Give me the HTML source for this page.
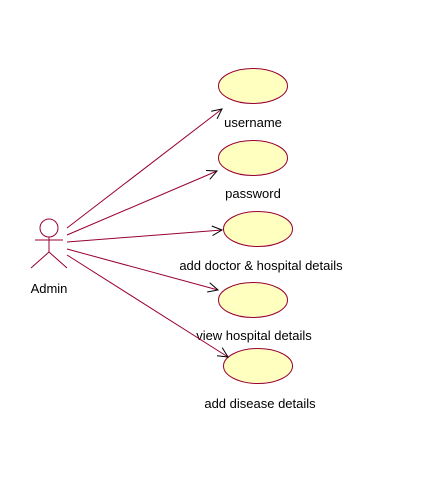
<!DOCTYPE html>
<html><head><meta charset="utf-8"><style>
html,body{margin:0;padding:0;background:#fff;}
svg text{font-family:"Liberation Sans",Arial,sans-serif;font-size:13px;fill:#000;}
</style></head><body>
<svg id="d" width="436" height="498" viewBox="0 0 436 498" xmlns="http://www.w3.org/2000/svg">
<g stroke="#990033" stroke-width="1" fill="none">
<circle cx="49" cy="228" r="9" fill="#fff"/>
<line x1="49" y1="237" x2="49" y2="252"/>
<line x1="35" y1="240" x2="63" y2="240"/>
<line x1="49" y1="252" x2="31" y2="268"/>
<line x1="49" y1="252" x2="67" y2="268"/>
</g>
<text x="49" y="293" text-anchor="middle">Admin</text>
</svg>
<script>
const useCases=["username","password","add doctor & hospital details","view hospital details","add disease details"];
const ns="http://www.w3.org/2000/svg";
const svg=document.getElementById('d');
const geo=[[253,86,67,228,222,109,123,253],[253,158,67,235,217,171,194,253],[258,229,67,242,222,230,266,261],[253,300,67,249,218,290,336,254],[258,366,67,255,228,357,404,260]];
function mk(t,a){const e=document.createElementNS(ns,t);for(const k in a)e.setAttribute(k,a[k]);svg.appendChild(e);return e;}
useCases.forEach((n,i)=>{const g=geo[i];
const el=mk('ellipse',{cx:g[0],cy:g[1],rx:34.5,ry:17.5,fill:'#ffffc0',stroke:'#990033'});


const ln=mk('line',{x1:g[2],y1:g[3],x2:g[4],y2:g[5],stroke:'#990033'});


const ang=Math.atan2(g[5]-g[3],g[4]-g[2]);const L=11,s=0.45;
const p=`M${g[4]-L*Math.cos(ang-s)},${g[5]-L*Math.sin(ang-s)} L${g[4]},${g[5]} L${g[4]-L*Math.cos(ang+s)},${g[5]-L*Math.sin(ang+s)}`;
const ar=mk('path',{d:p,fill:'none',stroke:'#000'});


const tx=mk('text',{x:g[7],y:g[6]+4,'text-anchor':'middle'});tx.textContent=n;


});
</script>
</body></html>
